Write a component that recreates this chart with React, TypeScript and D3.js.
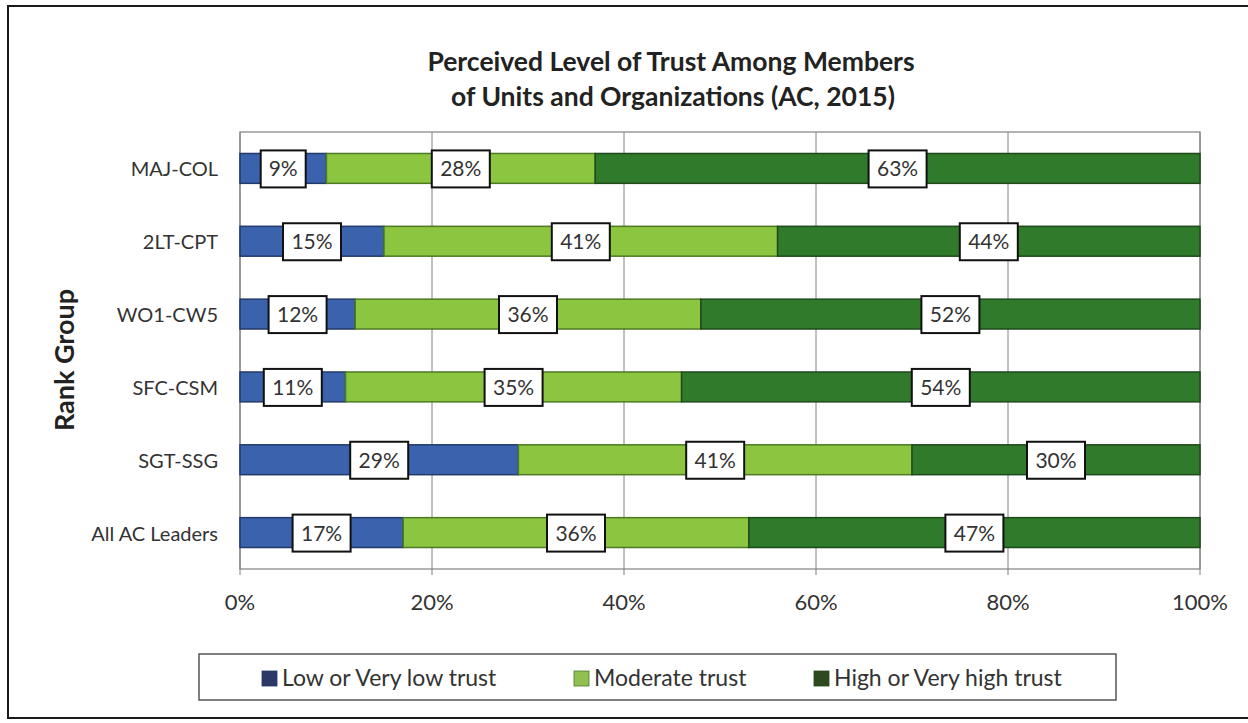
import React from "react";
import * as d3 from "d3";

const categories = ["MAJ-COL", "2LT-CPT", "WO1-CW5", "SFC-CSM", "SGT-SSG", "All AC Leaders"];
const lowTrust = [9, 15, 12, 11, 29, 17];
const moderateTrust = [28, 41, 36, 35, 41, 36];
const highTrust = [63, 44, 52, 54, 30, 47];
const seriesNames = ["Low or Very low trust", "Moderate trust", "High or Very high trust"];
const xTicks = [0, 20, 40, 60, 80, 100];

const fills = ["#3b62ad", "#8cc540", "#2f7a2b"];
const strokes = ["#22396b", "#4d7a22", "#1f4a1c"];
const legendFills = ["#2c3868", "#8fc050", "#2d4a1e"];

const W = 1248;
const H = 723;
const font = "Lato, 'Open Sans', sans-serif";

export default function App() {
  const x = d3.scaleLinear().domain([0, 100]).range([240, 1200]);
  const y = d3.scaleBand().domain(categories).range([132, 569]).paddingInner(0.59).paddingOuter(0.295);
  const series = [lowTrust, moderateTrust, highTrust];

  const rows = categories.map((c, i) => {
    const vals = series.map((s) => s[i]);
    let acc = 0;
    return vals.map((v, k) => {
      const seg = { cat: c, k, start: acc, end: acc + v, v };
      acc += v;
      return seg;
    });
  });

  const legendItems = [
    { x: 262, label: seriesNames[0] },
    { x: 574, label: seriesNames[1] },
    { x: 814, label: seriesNames[2] },
  ];

  return (
    <svg width={W} height={H} style={{ display: "block", position: "absolute", left: 0, top: 0 }}>
      <rect x={0} y={0} width={W} height={H} fill="#ffffff" />
      <rect x={8} y={6} width={1250} height={712} fill="none" stroke="#1a1a1a" strokeWidth={2} />
      <text x={671} y={71} textAnchor="middle" fontFamily={font} fontWeight={700} fontSize={26.5} fill="#222">
        Perceived Level of Trust Among Members
      </text>
      <text x={673} y={106} textAnchor="middle" fontFamily={font} fontWeight={700} fontSize={26.5} fill="#222">
        of Units and Organizations (AC, 2015)
      </text>

      {/* plot frame and gridlines */}
      <rect x={x(0)} y={132} width={x(100) - x(0)} height={569 - 132} fill="none" stroke="#808080" strokeWidth={1.2} />
      {xTicks.map((t) => (
        <g key={t}>
          <line x1={x(t)} x2={x(t)} y1={132} y2={575} stroke="#808080" strokeWidth={1} />
          <text x={x(t)} y={610} textAnchor="middle" fontFamily={font} fontSize={22} fill="#333">
            {t}%
          </text>
        </g>
      ))}

      {/* bars */}
      {rows.map((segs) =>
        segs.map((s) => (
          <rect
            key={s.cat + s.k}
            x={x(s.start)}
            y={y(s.cat)!}
            width={x(s.end) - x(s.start)}
            height={y.bandwidth()}
            fill={fills[s.k]}
            stroke={strokes[s.k]}
            strokeWidth={1.5}
          />
        ))
      )}

      {/* data labels */}
      {rows.map((segs) =>
        segs.map((s) => {
          const label = `${s.v}%`;
          const w = label.length === 2 ? 45 : 58;
          const cx = x((s.start + s.end) / 2);
          const cy = y(s.cat)! + y.bandwidth() / 2;
          return (
            <g key={"l" + s.cat + s.k}>
              <rect x={cx - w / 2} y={cy - 18} width={w} height={37} fill="#ffffff" stroke="#111" strokeWidth={2} />
              <text x={cx} y={cy + 8} textAnchor="middle" fontFamily={font} fontSize={21} fill="#333">
                {label}
              </text>
            </g>
          );
        })
      )}

      {/* category labels */}
      {categories.map((c) => (
        <text
          key={c}
          x={218}
          y={y(c)! + y.bandwidth() / 2 + 8}
          textAnchor="end"
          fontFamily={font}
          fontSize={20}
          fill="#333"
        >
          {c}
        </text>
      ))}
      <text
        transform="translate(74,360) rotate(-90)"
        textAnchor="middle"
        fontFamily={font}
        fontWeight={700}
        fontSize={27}
        fill="#222"
      >
        Rank Group
      </text>

      {/* legend */}
      <rect x={199} y={654} width={917} height={46} fill="#ffffff" stroke="#555" strokeWidth={1.5} />
      {legendItems.map((it, i) => (
        <g key={it.label}>
          <rect x={it.x} y={671} width={15} height={15} fill={legendFills[i]} stroke={strokes[i]} strokeWidth={0.8} />
          <text x={it.x + 20} y={686} fontFamily={font} fontSize={23} fill="#333">
            {it.label}
          </text>
        </g>
      ))}
    </svg>
  );
}
